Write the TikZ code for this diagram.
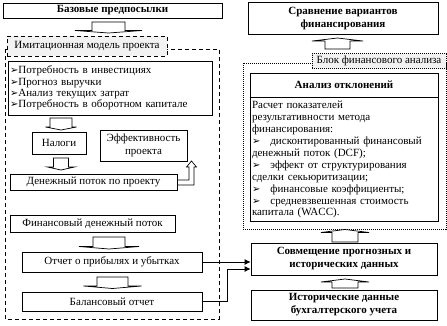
\documentclass[tikz,border=0pt]{standalone}
\usepackage{fontspec}
\setmainfont{Liberation Serif}
\newfontfamily\symfont{DejaVu Sans}
\usetikzlibrary{arrows.meta,calc}
\newcommand\blkarrow[6]{% cx, base y, wing y, tip y, body half, wing half
  \draw[fill=white, line width=0.7pt, line join=miter]
    (#1-#5,#2) -- (#1+#5,#2) -- (#1+#5,#3) -- (#1+#6,#3) -- (#1,#4)
    -- (#1-#6,#3) -- (#1-#5,#3) -- cycle;}
\newcommand\tri{{\symfont\fontsize{10}{8}\selectfont ➢}}
\begin{document}
\begin{tikzpicture}[x=1pt,y=-1pt,
  box/.style={draw, line width=0.8pt, fill=white, inner sep=1pt, align=center,
    font=\fontsize{11}{13}\selectfont},
  bbox/.style={box, font=\bfseries\fontsize{11}{13}\selectfont},
  lbl/.style={draw, line width=0.7pt, fill=gray!10, inner sep=1pt,
    font=\fontsize{11}{12}\selectfont},
  conn/.style={line width=0.8pt, -{Latex[length=6pt,width=6pt]}}]
\useasboundingbox (0,0) rectangle (447,325);

% ---------- left column ----------
\node[bbox, minimum width=219pt, minimum height=15pt] (base) at (112.5,10.5) {Базовые предпосылки};
\blkarrow{108.5}{22}{30.5}{33}{16.5}{33.5}

\draw[line width=0.7pt, dash pattern=on 4pt off 3pt] (5,49) rectangle (219,319);
\node[lbl, dash pattern=on 4pt off 3pt, minimum width=160pt, minimum height=20pt] (imit) at (87,46) {Имитационная модель проекта};

\node[box, minimum width=204pt, minimum height=54pt, align=left, text width=200pt,
  font=\fontsize{11}{11.4}\selectfont] (list) at (110,88)
  {\tri Потребность в инвестициях\\
   \tri Прогноз выручки\\
   \tri Анализ текущих затрат\\
   \tri Потребность в оборотном капитале};

\blkarrow{61}{118}{127}{130}{11}{15.5}
\node[box, minimum width=54pt, minimum height=22pt] (tax) at (59,143) {Налоги};
\node[box, minimum width=87pt, minimum height=31pt] (eff) at (143.5,145.5) {Эффективность\\проекта};
\blkarrow{61}{158}{167}{170}{7.5}{13.5}
\node[box, minimum width=167pt, minimum height=16pt] (cf) at (93.5,182) {Денежный поток по проекту};
% bent hollow arrow from cf to eff
\draw[fill=white, line width=0.7pt, line join=miter]
  (cf.east |- 0,180) -- (189,180) -- (189,167) -- (186.5,167) -- (191.5,161)
  -- (196.5,167) -- (194,167) -- (194,185) -- (cf.east |- 0,185) -- cycle;

\node[box, minimum width=165pt, minimum height=17pt] (fin) at (92.5,223.5) {Финансовый денежный поток};
\blkarrow{109}{237}{246.5}{249}{16}{30}
\node[box, minimum width=180pt, minimum height=20pt] (pl) at (112,262) {Отчет о прибылях и убытках};
\blkarrow{112.5}{277}{286}{288.5}{15.5}{29}
\node[box, minimum width=180pt, minimum height=19pt] (bal) at (112,301.5) {Балансовый отчет};

% ---------- right column ----------
\node[bbox, minimum width=190pt, minimum height=32pt] (cmp) at (343,18.5) {Сравнение вариантов\\финансирования};
\blkarrow{337.5}{49}{41}{38}{12.5}{25.5}

\draw[line width=0.7pt, dash pattern=on 1pt off 1pt] (243,63) rectangle (446,229);
\node[lbl, dash pattern=on 1pt off 1pt, minimum width=134pt, minimum height=15pt] (blk) at (379,61) {Блок финансового анализа};

\node[bbox, minimum width=188pt, minimum height=24pt] (dev) at (344,85) {Анализ отклонений};
\node[box, minimum width=188pt, minimum height=124pt, align=left, text width=184pt,
  anchor=north, font=\fontsize{11}{11.9}\selectfont] (calc) at (dev.south)
  {Расчет показателей\\
   результативности метода\\
   финансирования:\\
   \tri\hspace{10pt}дисконтированный финансовый\\
   денежный поток (DCF);\\
   \tri\hspace{10pt}эффект от структурирования\\
   сделки секьюритизации;\\
   \tri\hspace{10pt}финансовые коэффициенты;\\
   \tri\hspace{10pt}средневзвешенная стоимость\\
   капитала (WACC).};

\blkarrow{345}{242}{232.5}{229.5}{13}{24}
\node[bbox, minimum width=186pt, minimum height=32pt] (comb) at (344,259) {Совмещение прогнозных и\\исторических данных};
\blkarrow{345}{288}{282}{279}{13}{24}
\node[bbox, minimum width=186pt, minimum height=30pt] (hist) at (344,305) {Исторические данные\\бухгалтерского учета};

% connectors
\draw[conn] (pl.east) -- (pl.east -| comb.west);
\draw[conn] (bal.east) -- ++(25,0) |- ($(comb.west)+(0,10)$);
\end{tikzpicture}
\end{document}
